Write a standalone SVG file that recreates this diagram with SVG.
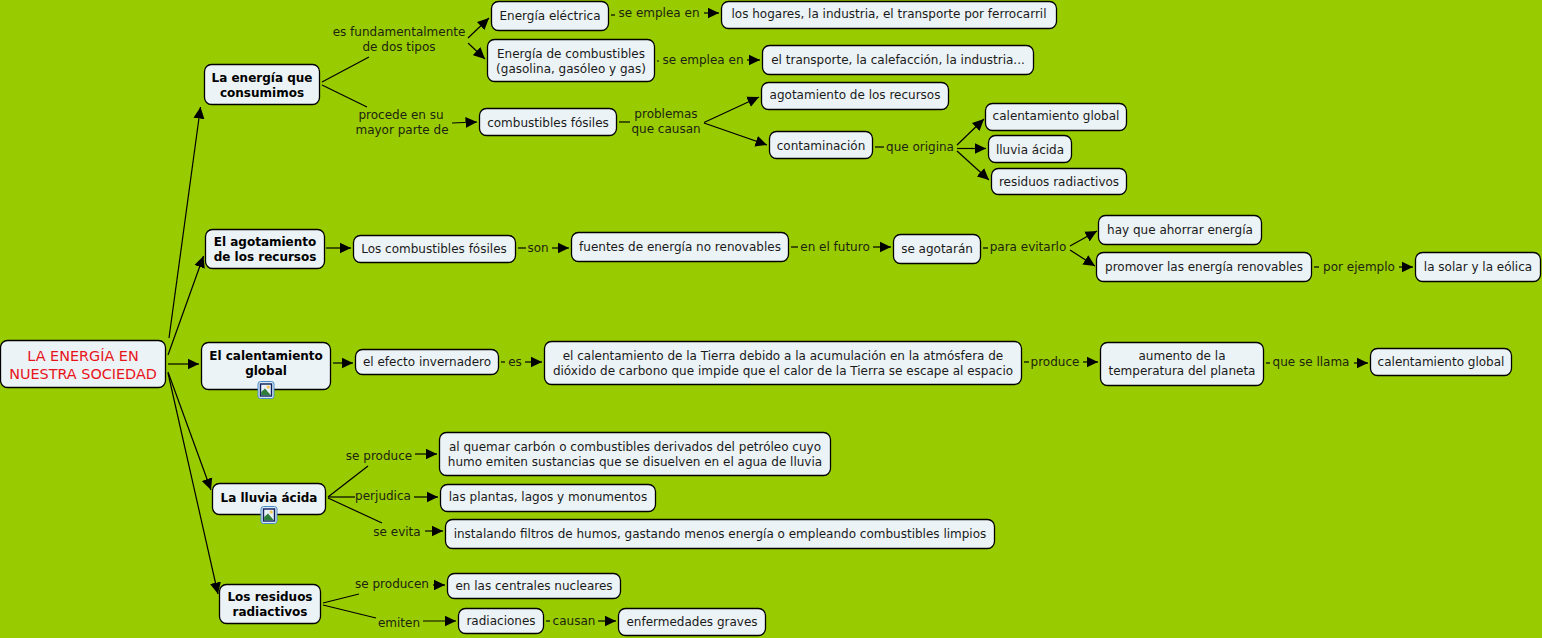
<svg xmlns="http://www.w3.org/2000/svg" width="1542" height="638" viewBox="0 0 1542 638">
<style>
text{font-family:"DejaVu Sans",Verdana,sans-serif;font-size:12px;fill:#1c2410;text-anchor:middle}
.n rect.b{fill:#ecf3f6;stroke:#000;stroke-width:1.3}
.n text{fill:#1a1a1a}
.m text{font-weight:bold;fill:#000}
.c line{stroke:#000;stroke-width:1.2}
.a{marker-end:url(#ah)}
</style>
<defs>
<marker id="ah" markerUnits="userSpaceOnUse" markerWidth="12" markerHeight="12" refX="11.500" refY="6" orient="auto"><path d="M0 0.500L11.500 6L0 11.500z" fill="#000"/></marker>
<g id="ic"><rect x="-8" y="-8.500" width="16" height="17" rx="2.500" fill="#d6e8f7" stroke="#4a8cc8" stroke-width="1"/><rect x="-5.500" y="-6" width="11" height="12" fill="#e8f0f8" stroke="#10205a" stroke-width="1.400"/><path d="M-4.800 5.300L-4.800 2L-1 -1.500L4.800 5.300z" fill="#2f7d3a"/><circle cx="2.200" cy="-3" r="1.600" fill="#f2c94c"/></g>
</defs>
<rect width="1542" height="638" fill="#99cc00"/>
<g id="connectors" class="c">
<line class="a" x1="169" y1="338" x2="200.500" y2="107"/>
<line class="a" x1="168" y1="355" x2="203.500" y2="256"/>
<line class="a" x1="168" y1="364" x2="199" y2="364"/>
<line class="a" x1="168" y1="372" x2="211" y2="490"/>
<line class="a" x1="168" y1="373" x2="218" y2="594"/>
<line x1="322" y1="82" x2="369" y2="57"/>
<line x1="322" y1="85" x2="367" y2="107"/>
<line class="a" x1="468" y1="38" x2="489" y2="18"/>
<line class="a" x1="468" y1="43" x2="485" y2="59"/>
<line class="a" x1="452" y1="123" x2="477" y2="122"/>
<line x1="611" y1="15" x2="615" y2="15"/>
<line class="a" x1="704" y1="13" x2="719" y2="13"/>
<line x1="657" y1="61" x2="659" y2="61"/>
<line class="a" x1="747" y1="60" x2="760" y2="60"/>
<line x1="619" y1="122" x2="630" y2="122"/>
<line class="a" x1="704" y1="122.500" x2="759" y2="97"/>
<line class="a" x1="704" y1="123" x2="767" y2="145"/>
<line x1="875" y1="147" x2="884" y2="147"/>
<line class="a" x1="957" y1="145" x2="984" y2="119"/>
<line class="a" x1="957" y1="148.500" x2="986" y2="148.500"/>
<line class="a" x1="957" y1="151" x2="989" y2="180"/>
<line class="a" x1="326" y1="248" x2="351" y2="248"/>
<line x1="518" y1="248" x2="526" y2="248"/>
<line class="a" x1="552" y1="248" x2="569" y2="248"/>
<line x1="791" y1="247" x2="798" y2="247"/>
<line class="a" x1="873" y1="247" x2="891" y2="247"/>
<line x1="983" y1="248" x2="988" y2="248"/>
<line class="a" x1="1070" y1="246" x2="1097" y2="231"/>
<line class="a" x1="1070" y1="250" x2="1095" y2="266"/>
<line x1="1314" y1="267" x2="1319" y2="267"/>
<line class="a" x1="1399" y1="267" x2="1413" y2="267"/>
<line class="a" x1="333" y1="363" x2="353" y2="363"/>
<line x1="501" y1="362" x2="505" y2="362"/>
<line class="a" x1="525" y1="362" x2="542" y2="362"/>
<line x1="1024" y1="362" x2="1029" y2="362"/>
<line class="a" x1="1083" y1="362" x2="1098" y2="362"/>
<line x1="1266" y1="363" x2="1270" y2="363"/>
<line class="a" x1="1354" y1="363" x2="1368" y2="363"/>
<line class="a" x1="415" y1="454" x2="437" y2="454"/>
<line class="a" x1="414" y1="497" x2="438" y2="497"/>
<line class="a" x1="425" y1="531" x2="443" y2="531"/>
<line x1="328" y1="497" x2="368" y2="466"/>
<line x1="328" y1="497" x2="355" y2="497"/>
<line x1="328" y1="498" x2="382" y2="523"/>
<line class="a" x1="433" y1="585" x2="445" y2="585"/>
<line x1="323" y1="603" x2="359" y2="594"/>
<line x1="323" y1="605" x2="376" y2="618"/>
<line class="a" x1="423" y1="621" x2="456" y2="621"/>
<line x1="546" y1="621" x2="550" y2="621"/>
<line class="a" x1="598" y1="621" x2="616" y2="621"/>
</g>
<g id="labels">
<text x="399" y="36">es fundamentalmente</text><text x="399" y="51">de dos tipos</text>
<text x="659" y="17">se emplea en</text>
<text x="703" y="64">se emplea en</text>
<text x="401" y="119">procede en su</text><text x="402" y="134">mayor parte de</text>
<text x="666" y="118">problemas</text><text x="666" y="133">que causan</text>
<text x="920" y="151">que origina</text>
<text x="538" y="252">son</text>
<text x="835" y="251">en el futuro</text>
<text x="1028" y="251">para evitarlo</text>
<text x="1359" y="271">por ejemplo</text>
<text x="515" y="366">es</text>
<text x="1055" y="366">produce</text>
<text x="1311" y="366">que se llama</text>
<text x="379" y="460">se produce</text>
<text x="383" y="500">perjudica</text>
<text x="397" y="536">se evita</text>
<text x="392" y="588">se producen</text>
<text x="399" y="627">emiten</text>
<text x="574" y="625">causan</text>
</g>
<g id="n0" class="n"><rect class="b" x="0.500" y="340.500" width="165" height="47" rx="7"/><text x="83" y="361" style="fill:#e8141c;font-size:14.400px">LA ENERGÍA EN</text><text x="83" y="379" style="fill:#e8141c;font-size:14.400px">NUESTRA SOCIEDAD</text></g>
<g id="n1" class="n m"><rect class="b" x="204.500" y="64.500" width="115" height="40" rx="7"/><text x="262" y="82">La energía que</text><text x="262" y="97">consumimos</text></g>
<g id="n2" class="n m"><rect class="b" x="205.500" y="229.500" width="119" height="39" rx="7"/><text x="265" y="246">El agotamiento</text><text x="265" y="261">de los recursos</text></g>
<g id="n3" class="n m"><rect class="b" x="201.500" y="342.500" width="129" height="47" rx="7"/><text x="266" y="360">El calentamiento</text><text x="266" y="375">global</text><use href="#ic" x="266" y="390"/></g>
<g id="n4" class="n m"><rect class="b" x="212.500" y="483.500" width="113" height="31" rx="7"/><text x="269" y="502">La lluvia ácida</text><use href="#ic" x="269" y="515"/></g>
<g id="n5" class="n m"><rect class="b" x="219.500" y="584.500" width="101" height="39" rx="7"/><text x="270" y="601">Los residuos</text><text x="270" y="616">radiactivos</text></g>
<g id="n6" class="n"><rect class="b" x="491.500" y="1.500" width="117" height="29" rx="7"/><text x="550" y="20">Energía eléctrica</text></g>
<g id="n7" class="n"><rect class="b" x="487.500" y="39.500" width="167" height="42" rx="7"/><text x="571" y="58">Energía de combustibles</text><text x="571" y="73">(gasolina, gasóleo y gas)</text></g>
<g id="n8" class="n"><rect class="b" x="479.500" y="108.500" width="137" height="27" rx="7"/><text x="548" y="127">combustibles fósiles</text></g>
<g id="n9" class="n"><rect class="b" x="721.500" y="1.500" width="335" height="27" rx="7"/><text x="889" y="18">los hogares, la industria, el transporte por ferrocarril</text></g>
<g id="n10" class="n"><rect class="b" x="762.500" y="45.500" width="271" height="29" rx="7"/><text x="898" y="64">el transporte, la calefacción, la industria...</text></g>
<g id="n11" class="n"><rect class="b" x="761.500" y="82.500" width="187" height="27" rx="7"/><text x="855" y="99">agotamiento de los recursos</text></g>
<g id="n12" class="n"><rect class="b" x="769.500" y="131.500" width="103" height="27" rx="7"/><text x="821" y="150">contaminación</text></g>
<g id="n13" class="n"><rect class="b" x="985.500" y="103.500" width="141" height="27" rx="7"/><text x="1056" y="120">calentamiento global</text></g>
<g id="n14" class="n"><rect class="b" x="988.500" y="135.500" width="83" height="27" rx="7"/><text x="1030" y="154">lluvia ácida</text></g>
<g id="n15" class="n"><rect class="b" x="991.500" y="168.500" width="135" height="26" rx="7"/><text x="1059" y="186">residuos radiactivos</text></g>
<g id="n16" class="n"><rect class="b" x="353.500" y="235.500" width="162" height="27" rx="7"/><text x="434" y="253">Los combustibles fósiles</text></g>
<g id="n17" class="n"><rect class="b" x="571.500" y="232.500" width="217" height="29" rx="7"/><text x="680" y="251">fuentes de energía no renovables</text></g>
<g id="n18" class="n"><rect class="b" x="893.500" y="234.500" width="87" height="29" rx="7"/><text x="937" y="253">se agotarán</text></g>
<g id="n19" class="n"><rect class="b" x="1098.500" y="215.500" width="163" height="29" rx="7"/><text x="1180" y="234">hay que ahorrar energía</text></g>
<g id="n20" class="n"><rect class="b" x="1096.500" y="252.500" width="215" height="29" rx="7"/><text x="1204" y="271">promover las energía renovables</text></g>
<g id="n21" class="n"><rect class="b" x="1415.500" y="252.500" width="125" height="29" rx="7"/><text x="1478" y="271">la solar y la eólica</text></g>
<g id="n22" class="n"><rect class="b" x="355.500" y="349.500" width="143" height="25" rx="7"/><text x="427" y="366">el efecto invernadero</text></g>
<g id="n23" class="n"><rect class="b" x="544.500" y="341.500" width="477" height="43" rx="7"/><text x="783" y="360">el calentamiento de la Tierra debido a la acumulación en la atmósfera de</text><text x="783" y="375">dióxido de carbono que impide que el calor de la Tierra se escape al espacio</text></g>
<g id="n24" class="n"><rect class="b" x="1100.500" y="342.500" width="163" height="43" rx="7"/><text x="1182" y="360">aumento de la</text><text x="1182" y="375">temperatura del planeta</text></g>
<g id="n25" class="n"><rect class="b" x="1370.500" y="348.500" width="141" height="27" rx="7"/><text x="1441" y="366">calentamiento global</text></g>
<g id="n26" class="n"><rect class="b" x="439.500" y="432.500" width="391" height="43" rx="7"/><text x="635" y="451">al quemar carbón o combustibles derivados del petróleo cuyo</text><text x="635" y="466">humo emiten sustancias que se disuelven en el agua de lluvia</text></g>
<g id="n27" class="n"><rect class="b" x="440.500" y="484.500" width="215" height="27" rx="7"/><text x="548" y="501">las plantas, lagos y monumentos</text></g>
<g id="n28" class="n"><rect class="b" x="445.500" y="519.500" width="549" height="29" rx="7"/><text x="720" y="538">instalando filtros de humos, gastando menos energía o empleando combustibles limpios</text></g>
<g id="n29" class="n"><rect class="b" x="447.500" y="573.500" width="173" height="25" rx="7"/><text x="534" y="590">en las centrales nucleares</text></g>
<g id="n30" class="n"><rect class="b" x="458.500" y="608.500" width="85" height="25" rx="7"/><text x="501" y="625">radiaciones</text></g>
<g id="n31" class="n"><rect class="b" x="618.500" y="608.500" width="147" height="27" rx="7"/><text x="692" y="626">enfermedades graves</text></g>
</svg>
